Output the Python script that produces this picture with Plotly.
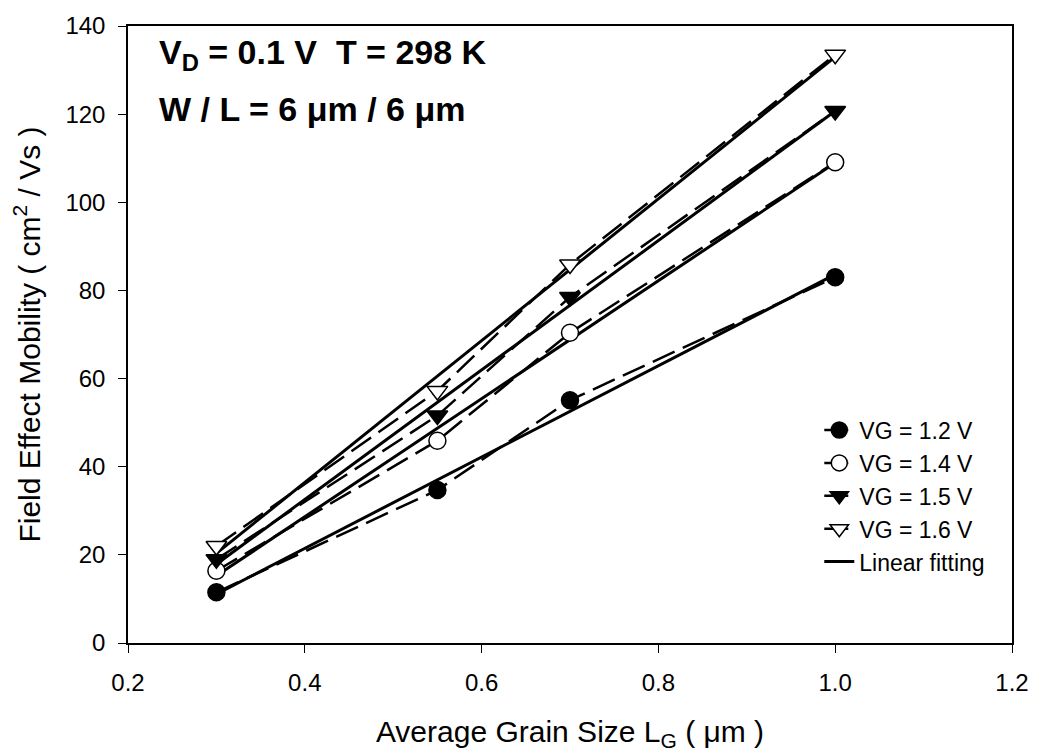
import numpy as np
import plotly.graph_objects as go

grain_size = [0.3, 0.55, 0.7, 1.0]
mu_vg12 = [11.5, 34.7, 55.1, 83.0]
mu_vg14 = [16.4, 45.9, 70.4, 109.1]
mu_vg15 = [19.0, 51.6, 78.5, 120.7]
mu_vg16 = [22.0, 57.2, 85.9, 133.5]
series_names = ["VG = 1.2 V", "VG = 1.4 V", "VG = 1.5 V", "VG = 1.6 V"]
x_ticks = [0.2, 0.4, 0.6, 0.8, 1.0, 1.2]
y_ticks = [0, 20, 40, 60, 80, 100, 120, 140]

series = [mu_vg12, mu_vg14, mu_vg15, mu_vg16]
symbols = ["circle", "circle", "triangle-down", "triangle-down"]
fills = ["black", "white", "black", "white"]

fig = go.Figure()
font = "Liberation Sans, Arial, sans-serif"

# linear fits
x = np.array(grain_size)
for i, ys in enumerate(series):
    k, b = np.polyfit(x, np.array(ys), 1)
    xf = np.array([x.min(), x.max()])
    fig.add_trace(go.Scatter(
        x=xf, y=k * xf + b, mode="lines",
        line=dict(color="black", width=3),
        name="Linear fitting", showlegend=(i == 3), legendrank=10,
    ))

for i, (ys, nm, sym, fc) in enumerate(zip(series, series_names, symbols, fills)):
    fig.add_trace(go.Scatter(
        x=grain_size, y=ys, mode="lines+markers", name=nm,
        line=dict(color="black", width=2.5, dash="24px,9px"),
        marker=dict(symbol=sym, size=17 if sym == "circle" else 18,
                    color=fc, line=dict(color="black", width=1.5)),
        legendrank=i + 1,
    ))

fig.update_layout(
    width=1041, height=756,
    margin=dict(l=128, r=23, t=19, b=113),
    paper_bgcolor="white", plot_bgcolor="white",
    font=dict(family=font, color="black", size=24),
    legend=dict(x=0.782, y=0.38, xanchor="left", yanchor="top",
                bgcolor="rgba(0,0,0,0)", font=dict(size=23, family=font),
                tracegroupgap=0),
    xaxis=dict(range=[0.2, 1.2], tickvals=x_ticks, tickformat=".1f",
               showline=True, linecolor="black", linewidth=1.5, mirror=True,
               ticks="outside", ticklen=8, tickcolor="black", showgrid=False,
               zeroline=False, ticklabelstandoff=9,
               tickfont=dict(size=24, family=font),
               title=dict(text="Average Grain Size L<sub>G</sub> ( μm )",
                          font=dict(size=30, family=font), standoff=26)),
    yaxis=dict(range=[0, 140], tickvals=y_ticks,
               showline=True, linecolor="black", linewidth=1.5, mirror=True,
               ticks="outside", ticklen=8, tickcolor="black", showgrid=False,
               zeroline=False, ticklabelstandoff=8,
               tickfont=dict(size=24, family=font),
               title=dict(text="Field Effect Mobility ( cm<sup>2</sup> / Vs )",
                          font=dict(size=30, family=font), standoff=16)),
)

fig.add_annotation(xref="paper", yref="paper", x=0.033, y=0.953,
                   xanchor="left", yanchor="middle", showarrow=False,
                   text="<b>V<sub>D</sub> = 0.1 V  T = 298 K</b>",
                   font=dict(size=34, family=font, color="black"))
fig.add_annotation(xref="paper", yref="paper", x=0.033, y=0.865,
                   xanchor="left", yanchor="middle", showarrow=False,
                   text="<b>W / L = 6 μm / 6 μm</b>",
                   font=dict(size=34, family=font, color="black"))

fig.write_html("out.html")
